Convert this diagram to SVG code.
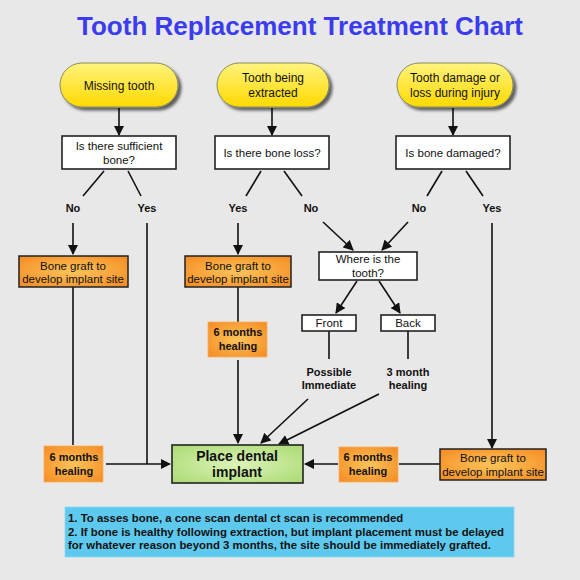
<svg xmlns="http://www.w3.org/2000/svg" width="580" height="580" viewBox="0 0 580 580">
<defs>
<style>
.t{font-family:"Liberation Sans",Arial,sans-serif;fill:#111;text-anchor:middle}
.r{font-size:12px}
.q{font-size:11.5px}
.b{font-size:11px;font-weight:bold}
.ln{stroke:#111;stroke-width:1.6;fill:none}
.qb{fill:#fff;stroke:#222;stroke-width:1.6}
.og{fill:url(#og);stroke:#222;stroke-width:1.5}
.oh{fill:url(#og);stroke:#f7b060;stroke-width:0.8}
.pill{fill:url(#yg);stroke:#8a8a60;stroke-width:1;filter:url(#sh)}
</style>
<linearGradient id="yg" x1="0" y1="0" x2="0" y2="1">
<stop offset="0" stop-color="#fff37e"/>
<stop offset="1" stop-color="#ffd900"/>
</linearGradient>
<radialGradient id="og" cx="0.5" cy="0.5" r="0.7">
<stop offset="0" stop-color="#fdc45a"/>
<stop offset="1" stop-color="#f48a22"/>
</radialGradient>
<radialGradient id="gg" cx="0.5" cy="0.5" r="0.7">
<stop offset="0" stop-color="#dcf3b8"/>
<stop offset="1" stop-color="#a9da72"/>
</radialGradient>
<filter id="sh" x="-20%" y="-20%" width="140%" height="150%">
<feDropShadow dx="3" dy="3" stdDeviation="1.5" flood-color="#000" flood-opacity="0.6"/>
</filter>
<marker id="ah" viewBox="0 0 10 10" refX="9" refY="5" markerWidth="6.5" markerHeight="6.5" orient="auto" markerUnits="strokeWidth">
<path d="M0,0 L10,5 L0,10 z" fill="#111"/>
</marker>
</defs>
<rect width="580" height="580" fill="#e8e8e8"/>
<text x="300" y="35" style="font-family:'Liberation Sans',Arial,sans-serif;font-size:26px;font-weight:bold;fill:#3a3cee;text-anchor:middle">Tooth Replacement Treatment Chart</text>

<g id="connectors">
<line class="ln" x1="119" y1="108" x2="119" y2="135" marker-end="url(#ah)"/>
<line class="ln" x1="272" y1="108" x2="272" y2="135" marker-end="url(#ah)"/>
<line class="ln" x1="453" y1="108" x2="453" y2="135" marker-end="url(#ah)"/>
<line class="ln" x1="104" y1="171" x2="83" y2="196"/>
<line class="ln" x1="128" y1="171" x2="141" y2="196"/>
<line class="ln" x1="261" y1="171" x2="246" y2="196"/>
<line class="ln" x1="284" y1="171" x2="302" y2="196"/>
<line class="ln" x1="442" y1="171" x2="427" y2="196"/>
<line class="ln" x1="466" y1="171" x2="483" y2="196"/>
<line class="ln" x1="73" y1="223" x2="73" y2="254" marker-end="url(#ah)"/>
<line class="ln" x1="238" y1="223" x2="238" y2="254" marker-end="url(#ah)"/>
<line class="ln" x1="323" y1="222" x2="353" y2="250" marker-end="url(#ah)"/>
<line class="ln" x1="408" y1="222" x2="382" y2="250" marker-end="url(#ah)"/>
<line class="ln" x1="357" y1="281" x2="336" y2="313" marker-end="url(#ah)"/>
<line class="ln" x1="379" y1="281" x2="400" y2="313" marker-end="url(#ah)"/>
<line class="ln" x1="329" y1="331" x2="329" y2="359"/>
<line class="ln" x1="408" y1="331" x2="408" y2="359"/>
<line class="ln" x1="238" y1="287" x2="238" y2="322"/>
<line class="ln" x1="238" y1="360" x2="238" y2="443" marker-end="url(#ah)"/>
<line class="ln" x1="308" y1="399" x2="261" y2="443" marker-end="url(#ah)"/>
<line class="ln" x1="379" y1="394" x2="279" y2="444" marker-end="url(#ah)"/>
<line class="ln" x1="73" y1="287" x2="73" y2="445"/>
<line class="ln" x1="147" y1="223" x2="147" y2="464"/>
<line class="ln" x1="106" y1="464" x2="170" y2="464" marker-end="url(#ah)"/>
<line class="ln" x1="492" y1="223" x2="492" y2="448" marker-end="url(#ah)"/>
<line class="ln" x1="440" y1="464" x2="399" y2="464"/>
<line class="ln" x1="338" y1="464" x2="305" y2="464" marker-end="url(#ah)"/>
</g>

<g id="missing-tooth">
<rect class="pill" x="60" y="63" width="118" height="44" rx="22"/>
<text class="t r" x="119" y="90">Missing tooth</text>
</g>
<g id="tooth-extracted">
<rect class="pill" x="217" y="63" width="112" height="44" rx="22"/>
<text class="t r" x="273" y="82">Tooth being</text>
<text class="t r" x="273" y="97">extracted</text>
</g>
<g id="tooth-damage">
<rect class="pill" x="397" y="63" width="116" height="44" rx="22"/>
<text class="t r" x="455" y="82">Tooth damage or</text>
<text class="t r" x="455" y="97">loss during injury</text>
</g>

<g id="q-sufficient">
<rect class="qb" x="62" y="136" width="114" height="33"/>
<text class="t q" x="119" y="150">Is there sufficient</text>
<text class="t q" x="119" y="164">bone?</text>
</g>
<g id="q-loss">
<rect class="qb" x="215" y="136" width="114" height="33"/>
<text class="t q" x="272" y="157">Is there bone loss?</text>
</g>
<g id="q-damaged">
<rect class="qb" x="396" y="136" width="114" height="33"/>
<text class="t q" x="453" y="157">Is bone damaged?</text>
</g>

<g id="labels">
<text class="t b" x="73" y="212">No</text>
<text class="t b" x="147" y="212">Yes</text>
<text class="t b" x="238" y="212">Yes</text>
<text class="t b" x="311" y="212">No</text>
<text class="t b" x="419" y="212">No</text>
<text class="t b" x="492" y="212">Yes</text>
</g>

<g id="graft-1">
<rect class="og" x="19" y="256" width="109" height="31"/>
<text class="t q" x="73" y="270">Bone graft to</text>
<text class="t q" x="73" y="283">develop implant site</text>
</g>
<g id="graft-2">
<rect class="og" x="185" y="256" width="106" height="31"/>
<text class="t q" x="238" y="270">Bone graft to</text>
<text class="t q" x="238" y="283">develop implant site</text>
</g>

<g id="where">
<rect class="qb" x="319" y="252" width="98" height="28"/>
<text class="t q" x="368" y="263">Where is the</text>
<text class="t q" x="368" y="277">tooth?</text>
</g>
<g id="front">
<rect class="qb" x="302" y="315" width="54" height="16"/>
<text class="t q" x="329" y="327">Front</text>
</g>
<g id="back">
<rect class="qb" x="381" y="315" width="54" height="16"/>
<text class="t q" x="408" y="327">Back</text>
</g>
<g id="possible-immediate">
<text class="t b" x="329" y="376">Possible</text>
<text class="t b" x="329" y="389">Immediate</text>
</g>
<g id="three-month">
<text class="t b" x="408" y="376">3 month</text>
<text class="t b" x="408" y="389">healing</text>
</g>

<g id="healing-mid">
<rect class="oh" x="208" y="322" width="59" height="35"/>
<text class="t b" x="238" y="336">6 months</text>
<text class="t b" x="238" y="350">healing</text>
</g>
<g id="healing-left">
<rect class="oh" x="44" y="446" width="59" height="36"/>
<text class="t b" x="74" y="461">6 months</text>
<text class="t b" x="74" y="475">healing</text>
</g>
<g id="healing-right">
<rect class="oh" x="339" y="447" width="59" height="35"/>
<text class="t b" x="368" y="461">6 months</text>
<text class="t b" x="368" y="475">healing</text>
</g>

<g id="implant">
<rect x="172" y="445" width="131" height="38" fill="url(#gg)" stroke="#222" stroke-width="1.6"/>
<text class="t" x="237" y="461" style="font-size:14px;font-weight:bold">Place dental</text>
<text class="t" x="237" y="477" style="font-size:14px;font-weight:bold">implant</text>
</g>

<g id="graft-3">
<rect class="og" x="440" y="449" width="106" height="31"/>
<text class="t q" x="493" y="462">Bone graft to</text>
<text class="t q" x="493" y="476">develop implant site</text>
</g>

<g id="note">
<rect x="65" y="507" width="449" height="50" fill="#5ec9ee" stroke="#8fd8f2" stroke-width="0.8"/>
<text style="font-family:'Liberation Sans',Arial,sans-serif;font-size:11.4px;font-weight:bold;fill:#111">
<tspan x="68" y="522">1. To asses bone, a cone scan dental ct scan is recommended</tspan>
<tspan x="68" y="536">2. If bone is healthy following extraction, but implant placement must be delayed</tspan>
<tspan x="68" y="549">for whatever reason beyond 3 months, the site should be immediately grafted.</tspan>
</text>
</g>
</svg>
